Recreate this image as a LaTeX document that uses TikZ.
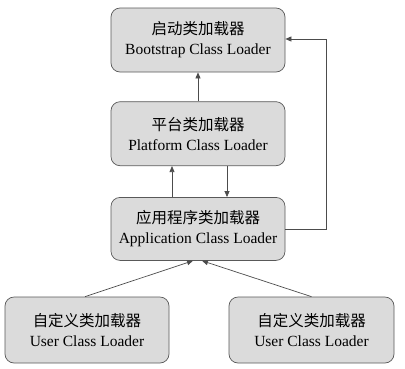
\documentclass[tikz,border=0pt]{standalone}
\usepackage{fontspec}
\setmainfont{Liberation Serif}
\newfontfamily\cjk{Noto Sans CJK SC}
\usetikzlibrary{positioning,calc,arrows.meta}

\begin{document}
\begin{tikzpicture}[x=1pt, y=-1pt, node distance=30pt,
  loader/.style={draw=black!65, fill=black!14, rounded corners=9pt, align=center,
    font=\fontsize{15.5}{20}\selectfont, minimum width=174pt, minimum height=64pt, line width=0.7pt},
  link/.style={-{Triangle[length=6pt,width=5pt]}, draw=black!70, line width=0.7pt}]
\useasboundingbox (0,0) rectangle (405,368);
% Loader boxes
\node (boot) [loader] at (198,40) {{\cjk 启动类加载器}\\Bootstrap Class Loader};
\node (plat) [loader, below=29pt of boot] {{\cjk 平台类加载器}\\Platform Class Loader};
\node (app) [loader, below=31pt of plat, minimum height=63pt] {{\cjk 应用程序类加载器}\\Application Class Loader};
\node (userA) [loader, minimum width=164pt, minimum height=66pt] at (87,330) {{\cjk 自定义类加载器}\\User Class Loader};
\node (userB) [loader, minimum width=165pt, minimum height=66pt] at (311.5,330) {{\cjk 自定义类加载器}\\User Class Loader};

% Delegation arrows
\draw[link] (plat) -- (boot);
\draw[link] ([xshift=-26pt]app.north) -- ([xshift=-26pt]plat.south);
\draw[link] ([xshift=29pt]plat.south) -- ([xshift=29pt]app.north);
\coordinate (turn) at (326,39);
\draw[link] (app.east) -| (turn) -- (turn -| boot.east);
\draw[link] ([xshift=-2pt]userA.north) -- ([xshift=-5pt]app.south);
\draw[link] ([xshift=0pt]userB.north) -- ([xshift=4pt]app.south);
\end{tikzpicture}
\end{document}
